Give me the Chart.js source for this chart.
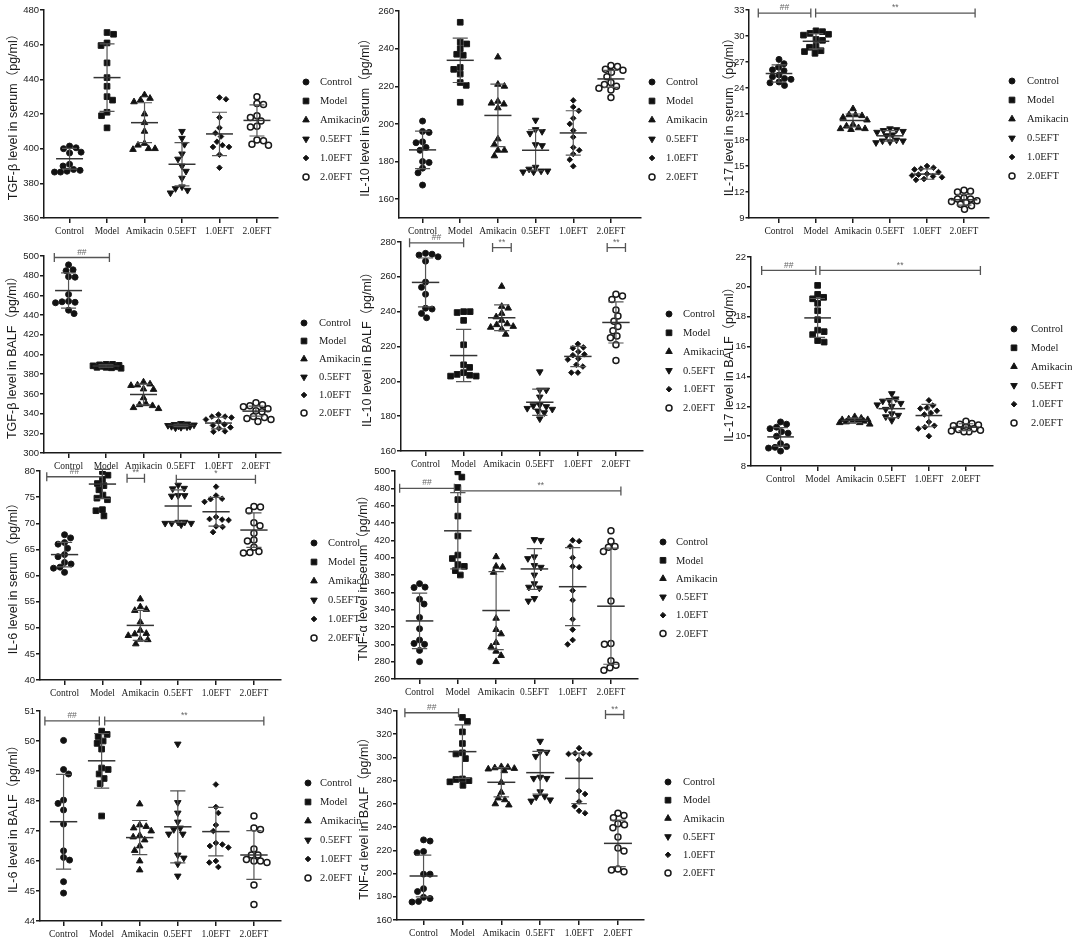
<!DOCTYPE html>
<html>
<head>
<meta charset="utf-8">
<script src="https://cdn.jsdelivr.net/npm/chart.js@4.4.1/dist/chart.umd.min.js"></script>
<style>
html,body{margin:0;padding:0;background:#fff;}
#wrap{position:relative;width:1072px;height:939px;overflow:hidden;background:#fff;}
#wrap canvas{position:absolute;}
</style>
</head>
<body>
<div id="wrap"></div>
<script>
// ---------- categories ----------
const GROUPS = ['Control','Model','Amikacin','0.5EFT','1.0EFT','2.0EFT'];

// ---------- TGF-β serum ----------
const tgfSerum = [
  [401.5,400.5,400,398,397.5,391,390,388,387.5,387,386.5,386.5],
  [467,466,461,459.5,449.5,441,436,430,428,421,419,412],
  [431,429,428,427,420,415,410,403,402,400,400,399.5],
  [410,406,402.5,397,394,390,387,383,378,377,376,374.5],
  [429.5,428.5,418,412,409,407,404,402,401,401,396.5,389],
  [430,426,425.5,419,418,416,413,412.5,405,404.5,402.5,402]
];
const tgfSerumMean = [394.2,441,415,391,408.5,416.3];
const tgfSerumSD = [6,19.5,11.5,12.5,12.5,9];
const tgfSerumTicks = [360,380,400,420,440,460,480];
const tgfSerumSig = [];

// ---------- IL-10 serum ----------
const il10Serum = [
  [201.5,196,195.5,190.5,190,187.5,186,180,179.5,176.5,174,167.5],
  [254,243.5,242.5,240,237,236.5,230,229,226.5,222,220.5,211.5],
  [235.5,221,220,212,211,210.5,208.5,192,189,186,186,183],
  [202,197,196,195,189,188.5,177,176,175,175,174.5,174.5],
  [212.5,209,207,203,200,196.5,193,187.5,186,184,181,177.5],
  [231,230.5,229,228.5,227.5,225,222,221,220,219,218,214]
];
const il10SerumMean = [186.2,233.8,204.5,186,195.2,223.9];
const il10SerumSD = [10,11.8,16.6,10.9,11.8,4.5];
const il10SerumTicks = [160,180,200,220,240,260];
const il10SerumSig = [];

// ---------- IL-17 serum ----------
const il17Serum = [
  [27.3,26.8,26.4,26.1,26.0,25.5,25.3,25.1,25.0,24.7,24.6,24.3],
  [30.6,30.5,30.3,30.2,30.1,29.6,29.5,28.8,28.7,28.3,28.2,28.0],
  [21.6,20.9,20.9,20.8,20.6,20.3,19.8,19.6,19.4,19.3,19.3,19.2],
  [19.3,19.2,19.1,19.0,18.9,18.6,18.5,18.0,17.9,17.9,17.8,17.7],
  [15.0,14.8,14.7,14.6,14.3,14.1,14.0,13.9,13.8,13.7,13.5,13.4],
  [12.2,12.1,12.0,11.3,11.2,11.2,11.0,10.9,10.8,10.6,10.4,10.0]
];
const il17SerumMean = [25.67,29.39,20.25,18.48,14.07,11.1];
const il17SerumSD = [1.0,0.88,0.75,0.6,0.6,0.62];
const il17SerumTicks = [9,12,15,18,21,24,27,30,33];
const il17SerumSig = [[-0.56,0.86,32.65,'##'],[0.99,5.3,32.65,'**']];

// ---------- TGF-β BALF ----------
const tgfBalf = [
  [491,486,485,479,478.5,461,454,453.5,453,452.5,445,441.5],
  [390,390,389.5,389,388.5,388,388,387.5,387,387,386.5,386],
  [372,370,369,368.5,365,364.5,356,350,349,348,346,345],
  [330,329.5,329,328.5,328,328,327.5,327,327,326.5,326,325.5],
  [339,337,337,336,334,332,329,328,326,325,322,321.5],
  [351,349,348,347,345,343,342,337,336,335,334,332]
];
const tgfBalfMean = [464.9,388.3,359.4,328,330.4,342.5];
const tgfBalfSD = [17.9,1.2,10.6,1.2,5.9,5];
const tgfBalfTicks = [300,320,340,360,380,400,420,440,460,480,500];
const tgfBalfSig = [[-0.38,1.09,498.5,'##']];

// ---------- IL-10 BALF ----------
const il10Balf = [
  [273.5,273,272.5,271.5,269,257,254,250,242,241.5,239,236.5],
  [240,240,239.5,235,221,209.5,208,205,204,203.5,203,203],
  [254.5,243,242,239,237,235,233,232.5,231.5,231,230,227],
  [205.5,195,195,191,186.5,186,185.5,184.5,184,183,182,178.5],
  [221.5,219.5,219,217,215.5,215,213,212.5,209.5,208.5,205,205],
  [250,249,247,241,237.5,234.5,231.5,229,226,225,221,212]
];
const il10BalfMean = [256.8,214.8,236.5,188,214.3,233.8];
const il10BalfSD = [14,15,7.4,7.5,5.8,11.8];
const il10BalfTicks = [160,180,200,220,240,260,280];
const il10BalfSig = [[-0.42,1.0,279.5,'##'],[1.76,2.25,276.8,'**'],[4.77,5.25,276.8,'**']];

// ---------- IL-17 BALF ----------
const il17Balf = [
  [10.95,10.8,10.6,10.5,10.3,10.2,10.0,9.5,9.3,9.25,9.2,9.0],
  [20.1,19.5,19.3,19.2,18.9,18.4,17.8,17.1,17.0,16.8,16.4,16.3],
  [11.3,11.2,11.15,11.1,11.1,11.05,11.0,11.0,10.95,10.9,10.9,10.8],
  [12.85,12.5,12.4,12.35,12.2,12.1,12.0,11.8,11.5,11.4,11.3,11.05],
  [12.4,12.05,11.9,11.85,11.7,11.55,11.45,10.95,10.7,10.6,10.5,10.0],
  [11.0,10.85,10.8,10.75,10.7,10.6,10.5,10.45,10.4,10.35,10.3,10.3]
];
const il17BalfMean = [9.95,17.92,11.06,11.84,11.38,10.6];
const il17BalfSD = [0.62,1.3,0.15,0.6,0.75,0.23];
const il17BalfTicks = [8,10,12,14,16,18,20,22];
const il17BalfSig = [[-0.51,0.95,21.1,'##'],[1.06,5.39,21.1,'**']];

// ---------- IL-6 serum ----------
const il6Serum = [
  [67.8,67.2,66.3,66.0,65.2,64.0,63.6,62.5,62.2,61.6,61.4,60.6],
  [79.9,79.2,78.4,77.6,77.2,76.4,75.4,74.8,74.5,72.6,72.4,71.4],
  [55.5,54.0,53.5,53.3,51.1,49.5,48.9,48.8,48.5,47.8,47.7,46.9],
  [77.3,76.7,76.6,75.3,75.3,75.2,70.2,70.2,70.0,70.0,70.0,69.7],
  [77.0,75.3,74.7,74.6,74.1,71.2,70.8,70.7,70.6,69.4,69.3,68.3],
  [73.2,73.1,72.4,70.1,69.5,68.1,66.8,66.6,65.4,64.6,64.4,64.3]
];
const il6SerumMean = [64.0,77.5,50.45,73.3,72.2,68.7];
const il6SerumSD = [2.35,2.8,2.85,3.1,2.75,3.3];
const il6SerumTicks = [40,45,50,55,60,65,70,75,80];
const il6SerumSig = [[-0.47,1.0,78.9,'##'],[1.65,2.11,78.6,'**'],[2.95,5.04,78.4,'*']];

// ---------- TNF-α serum ----------
const tnfSerum = [
  [370,366,365.5,352,346.5,331,318,305,301,300,293,280],
  [499,493,481,467,448,425,403,399,392,390,385,380],
  [401,390,389,383,330,317,312,302,297,292,287,280],
  [421,420,401,399,391,389,380,370,366,365,353,350],
  [420,419,413,400,390,389,362,351,329,317,305,300],
  [431,419,413,412,407,350,301,300,281,276,273,270]
];
const tnfSerumMean = [327,431,339,387,366.5,344];
const tnfSerumSD = [32,44,45,23.5,45,67];
const tnfSerumTicks = [260,280,300,320,340,360,380,400,420,440,460,480,500];
const tnfSerumSig = [[-0.52,0.91,480,'##'],[1.07,5.26,477,'**']];

// ---------- IL-6 BALF ----------
const il6Balf = [
  [50.02,49.05,48.9,48.03,47.92,47.7,47.23,46.34,46.12,46.03,45.31,44.93],
  [50.33,50.22,50.15,50.0,49.92,49.73,49.1,49.05,48.9,48.75,48.58,47.5],
  [47.9,47.2,47.15,47.1,47.0,46.85,46.8,46.7,46.5,46.35,46.0,45.7],
  [49.9,47.95,47.6,47.3,47.1,47.05,46.9,46.9,46.2,46.1,45.9,45.5],
  [48.55,47.8,47.6,47.2,47.0,46.6,46.55,46.5,46.45,46.0,45.95,45.8],
  [47.5,47.1,47.05,46.4,46.2,46.2,46.05,46.0,46.0,45.95,45.2,44.55]
];
const il6BalfMean = [47.31,49.34,46.78,47.14,46.98,46.2];
const il6BalfSD = [1.58,0.91,0.57,1.2,0.81,0.81];
const il6BalfTicks = [44,45,46,47,48,49,50,51];
const il6BalfSig = [[-0.49,0.94,50.67,'##'],[1.08,5.26,50.67,'**']];

// ---------- TNF-α BALF ----------
const tnfBalf = [
  [229,228,219,218,199.5,199.5,187,184.5,179.5,178.5,176,175.5],
  [334.5,331,322,312,304,303,299,281.5,281,280,279,276],
  [292,291.5,291,290.5,290,288.5,278.5,270,265,263.5,260,259],
  [314,305,304.5,301,283,282,282,270.5,266.5,266,263.5,262.5],
  [308,303.5,303.5,303,303,298,271,268.5,262,258,254,252],
  [252,250,248,243,242,239.5,231.5,222,219.5,204,203,201.5]
];
const tnfBalfMean = [197.9,305,278.6,286.9,282,226];
const tnfBalfSD = [18,23,12.6,18.4,21.8,20];
const tnfBalfTicks = [160,180,200,220,240,260,280,300,320,340];
const tnfBalfSig = [[-0.48,0.9,338.5,'##'],[4.68,5.15,337,'**']];

// ---------- marker styles ----------
const MARKERS = [
  {pointStyle:'circle', radius:3, rotation:0, fill:'#111', bw:1},
  {pointStyle:'rect', radius:4, rotation:0, fill:'#111', bw:1},
  {pointStyle:'triangle', radius:3.8, rotation:0, fill:'#111', bw:1},
  {pointStyle:'triangle', radius:3.8, rotation:180, fill:'#111', bw:1},
  {pointStyle:'rectRot', radius:2.8, rotation:0, fill:'#111', bw:1},
  {pointStyle:'circle', radius:3, rotation:0, fill:'#fff', bw:1.5}
];

// ---------- panel layout ----------
const PANELS = [
  {title:'TGF-β level in serum（pg/ml）', v:tgfSerum, m:tgfSerumMean, sd:tgfSerumSD, ticks:tgfSerumTicks, sig:tgfSerumSig, yMin:360, yMax:480,
   L:43,T:10,R:277,B:218,c0:69,c5:256, tg:30, lx:28, tx:14, ly:72, ls:19},
  {title:'IL-10 level in serum（pg/ml）', v:il10Serum, m:il10SerumMean, sd:il10SerumSD, ticks:il10SerumTicks, sig:il10SerumSig, yMin:150, yMax:260,
   L:398,T:11,R:640,B:218,c0:422,c5:610, tg:33, lx:11, tx:14, ly:71, ls:19},
  {title:'IL-17 level in serum（pg/ml）', v:il17Serum, m:il17SerumMean, sd:il17SerumSD, ticks:il17SerumTicks, sig:il17SerumSig, yMin:9, yMax:33,
   L:749,T:10,R:989,B:218,c0:779,c5:964, tg:19.5, lx:23, tx:15, ly:71, ls:19},
  {title:'TGF-β level in BALF（pg/ml）', v:tgfBalf, m:tgfBalfMean, sd:tgfBalfSD, ticks:tgfBalfTicks, sig:tgfBalfSig, yMin:300, yMax:500,
   L:43,T:256,R:280,B:453,c0:68,c5:255, tg:31, lx:23, tx:15, ly:67, ls:18},
  {title:'IL-10 level in BALF（pg/ml）', v:il10Balf, m:il10BalfMean, sd:il10BalfSD, ticks:il10BalfTicks, sig:il10BalfSig, yMin:160, yMax:280,
   L:400,T:242,R:642,B:451,c0:425,c5:615, tg:33, lx:26, tx:14, ly:72, ls:18.8},
  {title:'IL-17 level in BALF（pg/ml）', v:il17Balf, m:il17BalfMean, sd:il17BalfSD, ticks:il17BalfTicks, sig:il17BalfSig, yMin:8, yMax:22,
   L:750,T:257,R:992,B:466,c0:780,c5:965, tg:21, lx:21, tx:17, ly:72, ls:18.8},
  {title:'IL-6 level in serum（pg/ml）', v:il6Serum, m:il6SerumMean, sd:il6SerumSD, ticks:il6SerumTicks, sig:il6SerumSig, yMin:40, yMax:80,
   L:39,T:471,R:280,B:680,c0:64,c5:253, tg:26, lx:33, tx:14, ly:72, ls:19},
  {title:'TNF-α level in serum（pg/ml）', v:tnfSerum, m:tnfSerumMean, sd:tnfSerumSD, ticks:tnfSerumTicks, sig:tnfSerumSig, yMin:260, yMax:500,
   L:394,T:471,R:637,B:679,c0:419,c5:610, tg:31, lx:25, tx:13, ly:71, ls:18.3},
  {title:'IL-6 level in BALF（pg/ml）', v:il6Balf, m:il6BalfMean, sd:il6BalfSD, ticks:il6BalfTicks, sig:il6BalfSig, yMin:44, yMax:51,
   L:39,T:711,R:280,B:921,c0:63,c5:253, tg:26, lx:27, tx:12, ly:72, ls:19},
  {title:'TNF-α level in BALF（pg/ml）', v:tnfBalf, m:tnfBalfMean, sd:tnfBalfSD, ticks:tnfBalfTicks, sig:tnfBalfSig, yMin:160, yMax:340,
   L:396,T:711,R:643,B:920,c0:423,c5:617, tg:32, lx:24, tx:15, ly:71, ls:18.2}
];

const SANS = "'Liberation Sans', Arial, 'Noto Sans CJK SC', sans-serif";
const SERIF = "'Liberation Serif', 'Times New Roman', serif";
const INK = '#1a1a1a';

// spread points horizontally (beeswarm, limited width) so they overlap little
function swarm(vals, ci, pxY, pxX) {
  const D = 6.4, MAXOFF = 15, placed = [], out = [];
  const cands = [0];
  for (let c = 0.5; c <= MAXOFF; c += 0.5) { cands.push(c, -c); }
  const order = vals.map((v, i) => i).sort((a, b) => vals[b] - vals[a]);
  let flip = 1;
  for (const i of order) {
    const y = vals[i] * pxY;
    let best = null, bestD = -1;
    for (const c0 of cands) {
      const c = c0 * flip;
      let md = Infinity;
      for (const p of placed) { md = Math.min(md, Math.hypot(p.x - c, p.y - y)); }
      if (md >= D) { best = c; break; }
      if (md > bestD + 0.3) { bestD = md; best = c; }
    }
    if (best !== 0) flip = -flip;
    placed.push({x: best, y});
    out.push({x: ci + best / pxX, y: vals[i]});
  }
  return out;
}

function drawMarker(ctx, mk, x, y) {
  ctx.save();
  ctx.fillStyle = mk.fill; ctx.strokeStyle = INK; ctx.lineWidth = mk.bw;
  if (Chart.helpers && Chart.helpers.drawPoint) {
    Chart.helpers.drawPoint(ctx, {pointStyle: mk.pointStyle, radius: mk.radius, rotation: mk.rotation, borderWidth: mk.bw}, x, y);
  } else {
    ctx.beginPath(); ctx.arc(x, y, mk.radius, 0, Math.PI * 2); ctx.fill(); ctx.stroke();
  }
  ctx.restore();
}

const meanSdPlugin = {
  id: 'meanSd',
  afterDatasetsDraw(chart, args, o) {
    const {ctx, scales: {x, y}} = chart;
    const P = o.panel;
    ctx.save();
    P.m.forEach((mean, i) => {
      const sd = P.sd[i];
      const xc = x.getPixelForValue(i);
      const hw = x.getPixelForValue(i + 0.36) - xc;
      const cw = x.getPixelForValue(i + 0.2) - xc;
      const ym = y.getPixelForValue(mean), yt = y.getPixelForValue(mean + sd), yb = y.getPixelForValue(mean - sd);
      ctx.strokeStyle = '#555'; ctx.lineWidth = 1.2;
      ctx.beginPath(); ctx.moveTo(xc, yt); ctx.lineTo(xc, yb); ctx.stroke();
      ctx.beginPath(); ctx.moveTo(xc - cw, yt); ctx.lineTo(xc + cw, yt); ctx.moveTo(xc - cw, yb); ctx.lineTo(xc + cw, yb); ctx.stroke();
      ctx.strokeStyle = '#333'; ctx.lineWidth = 1.5;
      ctx.beginPath(); ctx.moveTo(xc - hw, ym); ctx.lineTo(xc + hw, ym); ctx.stroke();
    });
    ctx.restore();
  }
};

const sigPlugin = {
  id: 'sig',
  afterDraw(chart, args, o) {
    const {ctx, scales: {x, y}} = chart;
    ctx.save();
    o.panel.sig.forEach(([a, b, v, lab]) => {
      const x0 = x.getPixelForValue(a), x1 = x.getPixelForValue(b), yy = y.getPixelForValue(v);
      ctx.strokeStyle = '#555'; ctx.lineWidth = 1.3;
      ctx.beginPath();
      ctx.moveTo(x0, yy); ctx.lineTo(x1, yy);
      ctx.moveTo(x0, yy - 4.5); ctx.lineTo(x0, yy + 4.5);
      ctx.moveTo(x1, yy - 4.5); ctx.lineTo(x1, yy + 4.5);
      ctx.stroke();
      ctx.fillStyle = '#666'; ctx.font = '8.5px ' + SANS; ctx.textAlign = 'center'; ctx.textBaseline = 'bottom';
      ctx.fillText(lab, (x0 + x1) / 2, yy - 1);
    });
    ctx.restore();
  }
};

const legendPlugin = {
  id: 'sideLegend',
  afterDraw(chart, args, o) {
    const P = o.panel, ctx = chart.ctx, ca = chart.chartArea;
    ctx.save();
    GROUPS.forEach((g, i) => {
      const yy = ca.top + P.ly + i * P.ls;
      const xm = ca.right + P.lx;
      drawMarker(ctx, MARKERS[i], xm, yy);
      ctx.fillStyle = INK; ctx.font = '10.5px ' + SERIF; ctx.textAlign = 'left'; ctx.textBaseline = 'middle';
      ctx.fillText(g, xm + P.tx, yy + 0.5);
    });
    ctx.restore();
  }
};

const wrap = document.getElementById('wrap');
PANELS.forEach(P => {
  const padT = 16, padB = 32, padR = 95;
  const padL = P.tg + 7.5;
  const W = Math.round(padL + (P.R - P.L) + padR);
  const H = padT + (P.B - P.T) + padB;
  const cv = document.createElement('canvas');
  cv.width = W; cv.height = H;
  cv.style.width = W + 'px'; cv.style.height = H + 'px';
  cv.style.left = (P.L - padL) + 'px'; cv.style.top = (P.T - padT) + 'px';
  wrap.appendChild(cv);
  const sp = (P.c5 - P.c0) / 5;
  const xMin = -(P.c0 - P.L) / sp, xMax = 5 + (P.R - P.c5) / sp;
  const pxY = (P.B - P.T) / (P.yMax - P.yMin);
  const datasets = GROUPS.map((g, i) => ({
    label: g,
    data: swarm(P.v[i], i, pxY, sp),
    pointStyle: MARKERS[i].pointStyle,
    rotation: MARKERS[i].rotation,
    radius: MARKERS[i].radius,
    hoverRadius: MARKERS[i].radius,
    backgroundColor: MARKERS[i].fill,
    borderColor: INK,
    borderWidth: MARKERS[i].bw
  }));
  new Chart(cv, {
    type: 'scatter',
    data: {datasets},
    options: {
      responsive: false, animation: false, devicePixelRatio: window.devicePixelRatio || 1,
      layout: {padding: {left: 0, top: padT, right: padR, bottom: 0}},
      plugins: {legend: {display: false}, tooltip: {enabled: false},
        meanSd: {panel: P}, sig: {panel: P}, sideLegend: {panel: P}},
      events: [],
      scales: {
        x: {
          type: 'linear', min: xMin, max: xMax,
          afterBuildTicks: s => { s.ticks = GROUPS.map((g, i) => ({value: i})); },
          afterFit: s => { s.height = padB; },
          ticks: {autoSkip: false, maxRotation: 0, minRotation: 0, padding: 3, color: INK,
            font: {family: SERIF, size: 9.5}, callback: v => GROUPS[v]},
          grid: {drawOnChartArea: false, drawTicks: true, tickLength: 5, color: INK, lineWidth: 1.5},
          border: {display: true, color: INK, width: 1.5}
        },
        y: {
          type: 'linear', min: P.yMin, max: P.yMax,
          afterBuildTicks: s => { s.ticks = P.ticks.map(v => ({value: v})); },
          afterFit: s => { s.width = padL; },
          ticks: {padding: 1, color: INK, font: {family: SANS, size: 9.5}},
          grid: {drawOnChartArea: false, drawTicks: true, tickLength: 3.5, color: INK, lineWidth: 1.5},
          border: {display: true, color: INK, width: 1.5},
          title: {display: true, text: P.title, color: INK, padding: 0, font: {family: SANS, size: 12.5}}
        }
      }
    },
    plugins: [meanSdPlugin, sigPlugin, legendPlugin]
  });
});
</script>
</body>
</html>
